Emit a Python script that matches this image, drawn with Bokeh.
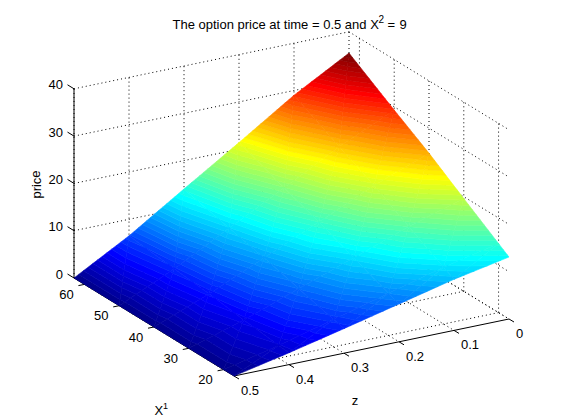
from bokeh.plotting import figure
from bokeh.models import ColumnDataSource
from bokeh.core.properties import value
from bokeh.embed import file_html
from bokeh.resources import INLINE

# ---- data ----
x1_grid = [63, 50, 40, 30, 20, 17]
z_grid = [0.0, 0.1, 0.2, 0.3, 0.4, 0.5]
price_x1_63 = [35.5, 29.0, 21.4, 14.0, 6.5, 0.0]
price_x1_50 = [29.3, 24.0, 17.7, 11.6, 5.4, 0.0]
price_x1_40 = [24.7, 20.3, 15.0, 9.8, 4.6, 0.0]
price_x1_30 = [19.6, 16.1, 11.9, 7.8, 3.6, 0.0]
price_x1_20 = [14.6, 12.0, 8.9, 5.8, 2.7, 0.0]
price_x1_17 = [13.1, 10.8, 8.0, 5.2, 2.5, 0.0]
price_rows = [price_x1_63, price_x1_50, price_x1_40, price_x1_30, price_x1_20, price_x1_17]

x1_ticks = [60, 50, 40, 30, 20]
z_ticks = [0.0, 0.1, 0.2, 0.3, 0.4, 0.5]
z_tick_labels = ["0", "0.1", "0.2", "0.3", "0.4", "0.5"]
price_ticks = [0, 10, 20, 30, 40]
x1_lim = (17, 63)
z_lim = (0.0, 0.5)

FONT = "Liberation Sans"


def proj(x1, z, pr):
    """Orthographic view of the MATLAB axes, in page pixels."""
    a = (z - z_lim[0]) / (z_lim[1] - z_lim[0])
    b = (x1 - x1_lim[0]) / (x1_lim[1] - x1_lim[0])
    return (508.5 - 275 * a - 160 * b, 318.5 + 57 * a - 98 * b - 4.73 * pr)


def jet(i, n=64):
    t = (i + 1) / n
    c = lambda v: int(round(255 * max(0.0, min(1.0, v))))
    return "#%02x%02x%02x" % (
        c(min(4 * t - 1.5, -4 * t + 4.5)),
        c(min(4 * t - 0.5, -4 * t + 3.5)),
        c(min(4 * t + 0.5, -4 * t + 2.5)),
    )


def clip(poly, level, keep_above):
    out = []
    for i in range(len(poly)):
        A, B = poly[i], poly[(i + 1) % len(poly)]
        ina = A[2] >= level if keep_above else A[2] <= level
        inb = B[2] >= level if keep_above else B[2] <= level
        if ina:
            out.append(A)
        if ina != inb:
            t = (level - A[2]) / (B[2] - A[2])
            out.append((A[0] + t * (B[0] - A[0]), A[1] + t * (B[1] - A[1]), level))
    return out


p = figure(width=561, height=420, x_range=(0, 561), y_range=(420, 0),
           output_backend="svg", toolbar_location=None, min_border=0,
           outline_line_color=None, background_fill_color="white")
p.axis.visible = False
p.grid.visible = False

# ---- dotted grid on the two walls and the floor ----
gx, gy = [], []


def seg(P, Q):
    A, B = proj(*P), proj(*Q)
    gx.append([A[0], B[0]])
    gy.append([A[1], B[1]])


x_hi, x_lo = x1_lim[1], x1_lim[0]
z_hi, z_lo = z_lim[1], z_lim[0]
top = price_ticks[-1]
for t in price_ticks:
    seg((x_hi, z_hi, t), (x_hi, z_lo, t))
    seg((x_hi, z_lo, t), (x_lo, z_lo, t))
for t in z_ticks:
    seg((x_hi, t, 0), (x_hi, t, top))
    seg((x_hi, t, 0), (x_lo, t, 0))
for t in x1_ticks:
    seg((t, z_lo, 0), (t, z_lo, top))
    seg((t, z_lo, 0), (t, z_hi, 0))
p.multi_line(gx, gy, line_color="black", line_width=1, line_dash="1 3")

# ---- solid axes and ticks ----
ax, ay = [], []


def solid(P, Q):
    ax.append([P[0], Q[0]])
    ay.append([P[1], Q[1]])


solid(proj(x_hi, z_hi, 0), proj(x_hi, z_hi, top))
solid(proj(x_hi, z_hi, 0), proj(x_lo, z_hi, 0))
solid(proj(x_lo, z_hi, 0), proj(x_lo, z_lo, 0))
for t in price_ticks:
    P = proj(x_hi, z_hi, t)
    solid(P, (P[0] - 6.5, P[1] - 4))
for t in x1_ticks:
    P = proj(t, z_hi, 0)
    solid(P, (P[0] - 6, P[1] + 1.2))
for t in z_ticks:
    P = proj(x_lo, t, 0)
    solid(P, (P[0] + 5, P[1] + 3))
p.multi_line(ax, ay, line_color="black", line_width=1)

# ---- surface: 64 colour bands clipped out of each grid triangle ----
pmax = max(max(r) for r in price_rows)
N = 64
sx, sy, sc = [], [], []
for i in range(len(x1_grid) - 1):
    for j in range(len(z_grid) - 1):
        v = []
        for ii, jj in ((i, j), (i + 1, j), (i + 1, j + 1), (i, j + 1)):
            pr = price_rows[ii][jj]
            v.append(proj(x1_grid[ii], z_grid[jj], pr) + (pr,))
        for tri in ((v[0], v[1], v[2]), (v[0], v[2], v[3])):
            plo, phi = min(q[2] for q in tri), max(q[2] for q in tri)
            for k in range(N):
                lo, hi = k * pmax / N, (k + 1) * pmax / N
                if hi < plo or lo > phi:
                    continue
                poly = clip(clip(list(tri), lo, True), hi, False)
                if len(poly) < 3:
                    continue
                sx.append([q[0] for q in poly])
                sy.append([q[1] for q in poly])
                sc.append(jet(k))
p.patches(xs="xs", ys="ys", fill_color="c", line_color="c", line_width=0.6,
          source=ColumnDataSource(dict(xs=sx, ys=sy, c=sc)))


# ---- texts ----
def txt(x, y, s, size=13, align="left", base="middle", angle=0.0):
    p.text([x], [y], text=[s], text_font=value(FONT), text_font_size=f"{size}px",
           text_color="black", text_align=align, text_baseline=base, angle=angle)


for t in price_ticks:
    P = proj(x_hi, z_hi, t)
    txt(62.5, P[1] - 4, str(t), align="right")
for t in x1_ticks:
    P = proj(t, z_hi, 0)
    txt(P[0] - 18, P[1] + 10, str(t), align="center")
for t, s in zip(z_ticks, z_tick_labels):
    P = proj(x_lo, t, 0)
    txt(P[0] + 7, P[1] + 14.5, s)

txt(172, 23.5, "The option price at time = 0.5 and X", base="alphabetic")
txt(378, 18.5, "2", size=10, base="alphabetic")
txt(387, 23.5, "=", base="alphabetic")
txt(399, 23.5, "9", base="alphabetic")
txt(35.5, 184, "price", align="center", angle=1.5708)
txt(354.5, 400, "z", align="center")
txt(154, 409.5, "X", base="alphabetic")
txt(162.5, 405, "1", size=9, base="alphabetic")

open("out.html", "w").write(file_html(p, INLINE))
